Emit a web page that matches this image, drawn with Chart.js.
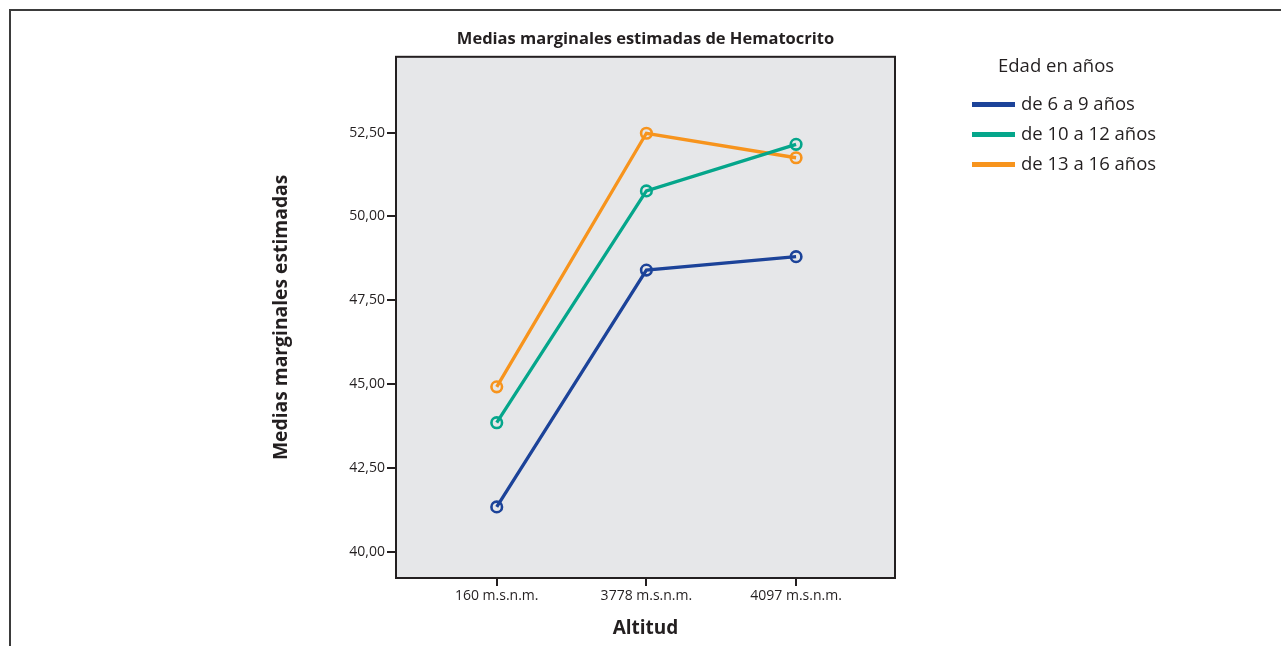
<!DOCTYPE html>
<html>
<head>
<meta charset="utf-8">
<script src="https://cdn.jsdelivr.net/npm/chart.js@4"></script>
<style>
  body { margin: 0; background: #fff; overflow: hidden; }
  #wrap { position: relative; width: 1281px; height: 646px; }
  #frame { position: absolute; left: 9px; top: 9px; width: 1400px; height: 800px;
           border-left: 2px solid #3b3b3b; border-top: 2px solid #3b3b3b; }
  #hemChart { position: absolute; left: 0; top: 0; }
  #legend { position: absolute; left: 972px; top: 50px; font-family: 'Open Sans', sans-serif; color: #231f20; }
  #legend .ttl { font-size: 18.5px; margin-left: 26px; height: 38px; line-height: 30px; }
  #legend .row { height: 30px; line-height: 30px; font-size: 18.5px; white-space: nowrap; }
  #legend .sw { display: inline-block; width: 43px; height: 5px; vertical-align: middle; margin-right: 6px; position: relative; top: -1px; }
</style>
</head>
<body>
<div id="wrap">
  <div id="frame"></div>
  <canvas id="hemChart" width="1281" height="646"></canvas>
  <div id="legend"></div>
</div>
<script>
// Data
const altitudes = ['160 m.s.n.m.', '3778 m.s.n.m.', '4097 m.s.n.m.'];
const ageGroups = ['de 6 a 9 años', 'de 10 a 12 años', 'de 13 a 16 años'];
const age6to9 = [41.34, 48.40, 48.80];
const age10to12 = [43.85, 50.76, 52.15];
const age13to16 = [44.92, 52.48, 51.75];
const yTicks = [40, 42.5, 45, 47.5, 50, 52.5];
const colors = ['#1c4399', '#05a68b', '#f7941d'];

const plotBg = '#e6e7e9';
const ink = '#231f20';
const fontName = 'Open Sans';

function toPoints(values) {
    return values.map((v, i) => ({ x: i, y: v }));
}

const seriesValues = [age6to9, age10to12, age13to16];
const datasets = ageGroups.map((label, i) => ({
    label: label,
    data: toPoints(seriesValues[i]),
    borderColor: colors[i],
    backgroundColor: colors[i],
    borderWidth: 3.3,
    pointRadius: 5.3,
    pointBorderWidth: 2.6,
    pointBackgroundColor: 'rgba(0,0,0,0)',
    pointBorderColor: colors[i],
    tension: 0
}));

// Plot background and frame
const plotFrame = {
    id: 'plotFrame',
    beforeDatasetsDraw(chart) {
        const { ctx, chartArea: a } = chart;
        ctx.save();
        ctx.fillStyle = plotBg;
        ctx.fillRect(a.left, a.top, a.right - a.left, a.bottom - a.top);
        ctx.restore();
    },
    afterDatasetsDraw(chart) {
        const { ctx, chartArea: a } = chart;
        ctx.save();
        ctx.strokeStyle = ink;
        ctx.lineWidth = 2;
        ctx.strokeRect(a.left, a.top, a.right - a.left, a.bottom - a.top);
        ctx.restore();
    }
};

const ctx = document.getElementById('hemChart').getContext('2d');
new Chart(ctx, {
    type: 'line',
    data: { datasets: datasets },
    plugins: [plotFrame],
    options: {
        responsive: false,
        animation: false,
        events: [],
        layout: { padding: { left: 0, top: 0, right: 386, bottom: 0 } },
        plugins: {
            legend: { display: false },
            tooltip: { enabled: false },
            title: {
                display: true,
                fullSize: false,
                text: 'Medias marginales estimadas de Hematocrito',
                color: ink,
                font: { family: fontName, size: 16.5, weight: 'bold', lineHeight: 1.2 },
                padding: { top: 29, bottom: 8 }
            }
        },
        scales: {
            x: {
                type: 'linear',
                min: -0.673,
                max: 2.661,
                afterBuildTicks: (scale) => { scale.ticks = altitudes.map((_, i) => ({ value: i })); },
                afterFit: (scale) => { scale.height = 68; },
                border: { display: false },
                grid: { drawOnChartArea: false, drawTicks: true, tickLength: 8, color: ink, lineWidth: 2 },
                ticks: {
                    color: ink,
                    font: { family: fontName, size: 14 },
                    padding: 2,
                    maxRotation: 0,
                    callback: (v) => altitudes[v]
                },
                title: {
                    display: true,
                    text: 'Altitud',
                    color: ink,
                    font: { family: fontName, size: 19, weight: 'bold', lineHeight: 1.2 },
                    padding: { top: 0, bottom: 6 }
                }
            },
            y: {
                min: 39.22,
                max: 54.76,
                afterBuildTicks: (scale) => { scale.ticks = yTicks.map(v => ({ value: v })); },
                afterFit: (scale) => { scale.width = 396; },
                border: { display: false },
                grid: { drawOnChartArea: false, drawTicks: true, tickLength: 9, color: ink, lineWidth: 2 },
                ticks: {
                    color: ink,
                    font: { family: fontName, size: 14 },
                    padding: 2,
                    callback: (v) => v.toFixed(2).replace('.', ',')
                },
                title: {
                    display: true,
                    text: 'Medias marginales estimadas',
                    color: ink,
                    font: { family: fontName, size: 19.3, weight: 'bold', lineHeight: 1.2 },
                    padding: { top: 270, bottom: 0 }
                }
            }
        }
    }
});

// HTML legend from the series
const legend = document.getElementById('legend');
legend.innerHTML = '<div class="ttl">Edad en años</div>' +
    ageGroups.map((g, i) => `<div class="row"><span class="sw" style="background:${colors[i]}"></span>${g}</div>`).join('');
</script>
</body>
</html>
